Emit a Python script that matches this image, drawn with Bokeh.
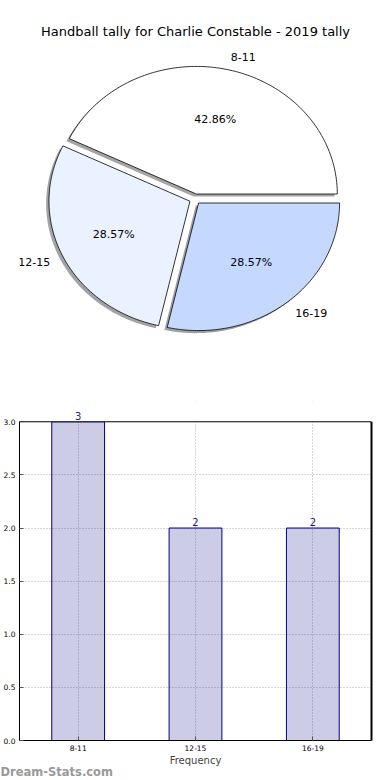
import numpy as np
from bokeh.plotting import figure
from bokeh.layouts import column
from bokeh.models import (Range1d, ColumnDataSource, Label, FixedTicker,
                          Span, BoxAnnotation, Title)
from bokeh.core.properties import value
from bokeh.embed import file_html
from bokeh.resources import INLINE

# ---------------- data ----------------
title_text = "Handball tally for Charlie Constable - 2019 tally"
categories = ["8-11", "12-15", "16-19"]
counts = [3, 2, 2]
pie_colors = ["#FFFFFF", "#EBF2FF", "#C5D9FF"]
explode = [0.04, 0.04, 0.04]
x_axis_label = "Frequency"
y_ticks = [0.0, 0.5, 1.0, 1.5, 2.0, 2.5, 3.0]
watermark = "Dream-Stats.com"

FONT = "DejaVu Sans"

# ---------------- layout constants ----------------
W = 390
PH = 400           # pie figure height
BH = 380           # bar figure height
FL, FR = 19, 19    # left/right borders (frames aligned)
PT = 48            # pie frame top (title sits above)
RX, RY = 141.0, 127.6
CXA, CYA = 194.55, 198.5   # pie centre in page pixels

# ---------------- pie ----------------
pie = figure(width=W, height=PH, output_backend="svg", toolbar_location=None,
             x_range=Range1d((FL - CXA) / RX, (W - FR - CXA) / RX),
             y_range=Range1d(-(PH - CYA) / RY, (CYA - PT) / RY),
             x_axis_location=None, y_axis_location=None,
             min_border_left=FL, min_border_right=FR, min_border_top=PT,
             min_border_bottom=0)
pie.grid.visible = False
pie.outline_line_color = None
pie.title.text = title_text
pie.title.align = "center"
pie.title.text_font = FONT
pie.title.text_font_size = "13px"
pie.title.text_font_style = "normal"
pie.title.text_color = "black"
pie.title.standoff = 19

vals = np.array(counts, dtype=float)
fr = vals / vals.sum()
cum = np.cumsum(fr)
th1 = 2 * np.pi * (cum - fr)
th2 = 2 * np.pi * cum
mid = (th1 + th2) / 2
ex = np.array(explode)

xs, ys, sxs, sys_, shadow_cols = [], [], [], [], []
for i in range(len(vals)):
    t = np.linspace(th1[i], th2[i], 120)
    cx0 = ex[i] * np.cos(mid[i])
    cy0 = ex[i] * np.sin(mid[i])
    px = np.concatenate([[cx0], cx0 + np.cos(t)])
    py = np.concatenate([[cy0], cy0 + np.sin(t)])
    xs.append(px.tolist())
    ys.append(py.tolist())
    sxs.append((px - 0.02).tolist())
    sys_.append((py - 0.02).tolist())
    h = pie_colors[i].lstrip("#")
    rgb = [int(h[k:k + 2], 16) for k in (0, 2, 4)]
    shadow_cols.append("#%02x%02x%02x" % tuple(int(c * 0.3) for c in rgb))

pie.patches(xs=sxs, ys=sys_, fill_color=shadow_cols, fill_alpha=0.5, line_color=None)
pie.patches(xs=xs, ys=ys, fill_color=pie_colors, line_color="black", line_width=0.8)

lab_x = (ex + 1.1) * np.cos(mid)
lab_y = (ex + 1.1) * np.sin(mid)
aligns = ["left" if c > 0 else "right" for c in np.cos(mid)]
pie.text(x=lab_x.tolist(), y=lab_y.tolist(), text=categories, text_align=aligns,
         text_baseline="middle", text_font=value(FONT), text_font_size="11px",
         text_color="black")
pct_x = (ex + 0.6) * np.cos(mid)
pct_y = (ex + 0.6) * np.sin(mid)
pcts = ["%.2f%%" % (f * 100) for f in fr]
pie.text(x=pct_x.tolist(), y=pct_y.tolist(), text=pcts, text_align="center",
         text_baseline="middle", text_font=value(FONT), text_font_size="11px",
         text_color="black")

# ---------------- bar ----------------
xpos = list(range(len(categories)))
x_lo, x_hi = -0.5, len(categories) - 0.5
top_val = y_ticks[-1]
head_room = 21.3 / 319.0          # space above the box for the value labels
bar = figure(width=W, height=BH, output_backend="svg", toolbar_location=None,
             x_range=Range1d(x_lo, x_hi),
             y_range=Range1d(0, top_val * (1 + head_room)),
             min_border_top=0, min_border_right=FR, min_border_left=FL,
             min_border_bottom=40)
bar.outline_line_color = None
src = ColumnDataSource(dict(x=xpos, cnt=counts))
bar.vbar(x="x", top="cnt", width=0.45, source=src, fill_color="navy",
         fill_alpha=0.2, line_color="navy", line_width=1)

# grid (under the translucent bars, so it shows through)
bar.grid.grid_line_color = "#b0b0b0"
bar.grid.grid_line_dash = "1 2"
bar.grid.grid_line_width = 1
bar.xgrid.ticker = FixedTicker(ticks=xpos)
bar.ygrid.ticker = FixedTicker(ticks=y_ticks)

# box: right edge (clipped to frame), blank area above the box, box top
bar.segment(x0=[x_hi], y0=[0], x1=[x_hi], y1=[top_val], line_color="black",
            line_width=2, level="overlay")
bar.add_layout(BoxAnnotation(bottom=top_val, fill_color="white", fill_alpha=1,
                             line_color=None, level="overlay"))
bar.add_layout(Span(location=top_val, dimension="width", line_color="black",
                    line_width=1, level="overlay"))
for xi, c in zip(xpos, counts):
    bar.add_layout(Label(x=xi, y=c, text=str(c), y_offset=2, text_align="center",
                         text_baseline="bottom", text_font=FONT,
                         text_font_size="10px", text_color="#1a1a8c", level="overlay"))

for ax in (bar.xaxis[0], bar.yaxis[0]):
    ax.major_tick_in = 4
    ax.major_tick_out = 0
    ax.minor_tick_line_color = None
    ax.major_tick_line_color = "#555555"
    ax.axis_line_color = "black"
    ax.major_label_text_font = FONT
    ax.major_label_text_font_size = "7.5px"
    ax.major_label_text_color = "black"
    ax.major_label_standoff = 4
bar.xaxis[0].ticker = FixedTicker(ticks=xpos)
bar.xaxis[0].major_label_overrides = {i: c for i, c in zip(xpos, categories)}
bar.yaxis[0].ticker = FixedTicker(ticks=y_ticks)
bar.yaxis[0].bounds = (0, top_val)
bar.yaxis[0].major_label_overrides = {v: "%.1f" % v for v in y_ticks}
bar.xaxis[0].axis_label = x_axis_label
bar.xaxis[0].axis_label_text_font = FONT
bar.xaxis[0].axis_label_text_font_size = "10px"
bar.xaxis[0].axis_label_text_font_style = "normal"
bar.xaxis[0].axis_label_standoff = 1

bar.add_layout(Title(text=watermark, align="left", offset=-FL, standoff=-11,
                     text_font=FONT, text_font_size="11.5px", text_color="#999999",
                     text_font_style="bold"), "below")

layout = column(pie, bar, spacing=0)
open("out.html", "w").write(file_html(layout, INLINE))
